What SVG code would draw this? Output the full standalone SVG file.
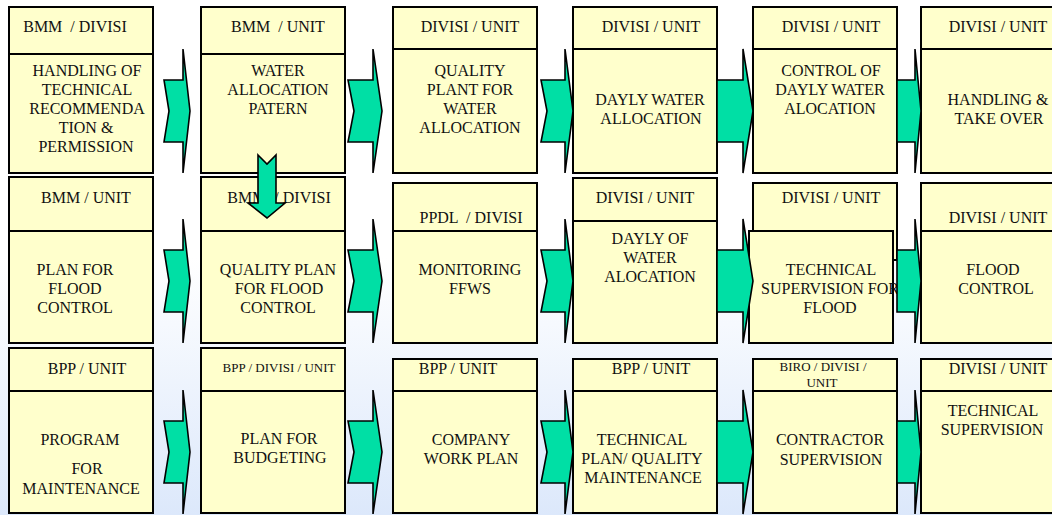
<svg xmlns="http://www.w3.org/2000/svg" width="1052" height="515" viewBox="0 0 1052 515">
<defs>
<linearGradient id="bg" x1="0" y1="0" x2="0" y2="1">
<stop offset="0" stop-color="#FFFFFF"/>
<stop offset="0.5" stop-color="#FFFFFF"/>
<stop offset="1" stop-color="#DCE8FB"/>
</linearGradient>
<style>
.box{fill:#FFFFCC;stroke:#000;stroke-width:2}
.div{stroke:#000;stroke-width:2}
.t{font-family:'Liberation Serif','Times New Roman','DejaVu Serif',serif;font-size:16px;text-anchor:middle;fill:#111}
.s{font-size:13px}
.arr{fill:#00DFA5;stroke:#000;stroke-width:1.6;stroke-linejoin:miter}
</style>
</defs>
<rect x="0" y="0" width="1052" height="515" fill="url(#bg)"/>

<g font-family="Liberation Serif, Times New Roman, serif">
<!-- Row 1 -->
<g id="n11">
<rect class="box" x="9" y="7" width="144" height="166"/>
<line class="div" x1="9" y1="54" x2="153" y2="54"/>
<text class="t" x="75" y="32" xml:space="preserve">BMM  / DIVISI</text>
<text class="t" x="87" y="76">HANDLING OF</text>
<text class="t" x="87" y="95">TECHNICAL</text>
<text class="t" x="87" y="114">RECOMMENDA</text>
<text class="t" x="86" y="133">TION &amp;</text>
<text class="t" x="86" y="152">PERMISSION</text>
</g>
<g id="n12">
<rect class="box" x="201" y="7" width="144" height="166"/>
<line class="div" x1="201" y1="54" x2="345" y2="54"/>
<text class="t" x="278" y="32" xml:space="preserve">BMM  / UNIT</text>
<text class="t" x="278" y="76">WATER</text>
<text class="t" x="278" y="95">ALLOCATION</text>
<text class="t" x="278" y="114">PATERN</text>
</g>
<g id="n13">
<rect class="box" x="393" y="7" width="144" height="166"/>
<line class="div" x1="393" y1="49" x2="537" y2="49"/>
<text class="t" x="470" y="32">DIVISI / UNIT</text>
<text class="t" x="470" y="76">QUALITY</text>
<text class="t" x="470" y="95">PLANT FOR</text>
<text class="t" x="470" y="114">WATER</text>
<text class="t" x="470" y="133">ALLOCATION</text>
</g>
<g id="n14">
<rect class="box" x="573" y="7" width="144" height="166"/>
<line class="div" x1="573" y1="49" x2="717" y2="49"/>
<text class="t" x="651" y="32">DIVISI / UNIT</text>
<text class="t" x="650" y="105">DAYLY WATER</text>
<text class="t" x="651" y="124">ALLOCATION</text>
</g>
<g id="n15">
<rect class="box" x="753" y="7" width="144" height="166"/>
<line class="div" x1="753" y1="49" x2="897" y2="49"/>
<text class="t" x="831" y="32">DIVISI / UNIT</text>
<text class="t" x="831" y="76">CONTROL OF</text>
<text class="t" x="830" y="95">DAYLY WATER</text>
<text class="t" x="830" y="114">ALOCATION</text>
</g>
<g id="n16">
<rect class="box" x="921" y="7" width="144" height="166"/>
<line class="div" x1="921" y1="49" x2="1065" y2="49"/>
<text class="t" x="998" y="32">DIVISI / UNIT</text>
<text class="t" x="998" y="105">HANDLING &amp;</text>
<text class="t" x="999" y="124">TAKE OVER</text>
</g>

<!-- Row 2 -->
<g id="n21">
<rect class="box" x="9" y="177" width="144" height="166"/>
<line class="div" x1="9" y1="231" x2="153" y2="231"/>
<text class="t" x="86" y="203">BMM / UNIT</text>
<text class="t" x="75" y="275">PLAN FOR</text>
<text class="t" x="75" y="294">FLOOD</text>
<text class="t" x="75" y="313">CONTROL</text>
</g>
<g id="n22">
<rect class="box" x="201" y="177" width="144" height="166"/>
<line class="div" x1="201" y1="231" x2="345" y2="231"/>
<text class="t" x="279" y="203" xml:space="preserve">BMM  / DIVISI</text>
<text class="t" x="278" y="275">QUALITY PLAN</text>
<text class="t" x="279" y="294">FOR FLOOD</text>
<text class="t" x="278" y="313">CONTROL</text>
</g>
<g id="n23">
<rect class="box" x="393" y="183" width="144" height="160"/>
<line class="div" x1="393" y1="231" x2="537" y2="231"/>
<text class="t" x="471" y="223" xml:space="preserve">PPDL  / DIVISI</text>
<text class="t" x="470" y="275">MONITORING</text>
<text class="t" x="470" y="294">FFWS</text>
</g>
<g id="n24">
<rect class="box" x="573" y="178" width="144" height="165"/>
<line class="div" x1="573" y1="221" x2="717" y2="221"/>
<text class="t" x="645" y="203">DIVISI / UNIT</text>
<text class="t" x="650" y="244">DAYLY OF</text>
<text class="t" x="650" y="263">WATER</text>
<text class="t" x="650" y="282">ALOCATION</text>
</g>
<g id="n25">
<rect class="box" x="753" y="183" width="144" height="77"/>
<text class="t" x="831" y="203">DIVISI / UNIT</text>
<rect class="box" x="749" y="231" width="144" height="112"/>
<text class="t" x="831" y="275">TECHNICAL</text>
<text class="t" x="830" y="294">SUPERVISION FOR</text>
<text class="t" x="830" y="313">FLOOD</text>
</g>
<g id="n26">
<rect class="box" x="921" y="183" width="144" height="160"/>
<line class="div" x1="921" y1="231" x2="1065" y2="231"/>
<text class="t" x="998" y="223">DIVISI / UNIT</text>
<text class="t" x="993" y="275">FLOOD</text>
<text class="t" x="996" y="294">CONTROL</text>
</g>

<!-- Row 3 -->
<g id="n31">
<rect class="box" x="9" y="348" width="144" height="165"/>
<line class="div" x1="9" y1="391" x2="153" y2="391"/>
<text class="t" x="87" y="374">BPP / UNIT</text>
<text class="t" x="80" y="445">PROGRAM</text>
<text class="t" x="87" y="474">FOR</text>
<text class="t" x="81" y="494">MAINTENANCE</text>
</g>
<g id="n32">
<rect class="box" x="201" y="348" width="144" height="165"/>
<line class="div" x1="201" y1="391" x2="345" y2="391"/>
<text class="t s" x="279" y="372">BPP / DIVISI / UNIT</text>
<text class="t" x="279" y="444">PLAN FOR</text>
<text class="t" x="280" y="463">BUDGETING</text>
</g>
<g id="n33">
<rect class="box" x="393" y="359" width="144" height="154"/>
<line class="div" x1="393" y1="391" x2="537" y2="391"/>
<text class="t" x="458" y="374">BPP / UNIT</text>
<text class="t" x="471" y="445">COMPANY</text>
<text class="t" x="471" y="464">WORK PLAN</text>
</g>
<g id="n34">
<rect class="box" x="573" y="359" width="144" height="154"/>
<line class="div" x1="573" y1="391" x2="717" y2="391"/>
<text class="t" x="651" y="374">BPP / UNIT</text>
<text class="t" x="642" y="445">TECHNICAL</text>
<text class="t" x="642" y="464">PLAN/ QUALITY</text>
<text class="t" x="643" y="483">MAINTENANCE</text>
</g>
<g id="n35">
<rect class="box" x="753" y="359" width="144" height="154"/>
<line class="div" x1="753" y1="391" x2="897" y2="391"/>
<text class="t s" x="823" y="371">BIRO / DIVISI /</text>
<text class="t s" x="822" y="387">UNIT</text>
<text class="t" x="830" y="445">CONTRACTOR</text>
<text class="t" x="831" y="465">SUPERVISION</text>
</g>
<g id="n36">
<rect class="box" x="921" y="359" width="144" height="154"/>
<line class="div" x1="921" y1="391" x2="1065" y2="391"/>
<text class="t" x="998" y="374">DIVISI / UNIT</text>
<text class="t" x="993" y="416">TECHNICAL</text>
<text class="t" x="992" y="435">SUPERVISION</text>
</g>
</g>

<!-- Connectors -->
<g id="connectors">
<path class="arr" d="M164,80 L183,80 L183,49 L190,111 L183,173 L183,142 L164,142 L169,111 Z"/>
<path class="arr" d="M348,80 L373,80 L373,49 L382,111 L373,173 L373,142 L348,142 L354,111 Z"/>
<path class="arr" d="M541,80 L565,80 L565,49 L573,111 L565,173 L565,142 L541,142 L547,111 Z"/>
<path class="arr" d="M717,80 L743,80 L743,49 L753,111 L743,173 L743,142 L717,142 Z"/>
<path class="arr" d="M897,80 L915,80 L915,49 L921,111 L915,173 L915,142 L897,142 Z"/>

<path class="arr" d="M164,250 L183,250 L183,219 L190,281 L183,343 L183,312 L164,312 L169,281 Z"/>
<path class="arr" d="M348,250 L373,250 L373,219 L382,281 L373,343 L373,312 L348,312 L354,281 Z"/>
<path class="arr" d="M541,250 L565,250 L565,219 L573,281 L565,343 L565,312 L541,312 L547,281 Z"/>
<path class="arr" d="M717,250 L743,250 L743,219 L753,281 L743,343 L743,312 L717,312 Z"/>
<path class="arr" d="M897,250 L915,250 L915,219 L921,281 L915,343 L915,312 L897,312 Z"/>

<path class="arr" d="M164,421 L183,421 L183,390 L190,452 L183,514 L183,483 L164,483 L169,452 Z"/>
<path class="arr" d="M348,421 L373,421 L373,390 L382,452 L373,514 L373,483 L348,483 L354,452 Z"/>
<path class="arr" d="M541,421 L565,421 L565,390 L573,452 L565,514 L565,483 L541,483 L547,452 Z"/>
<path class="arr" d="M717,421 L743,421 L743,390 L753,452 L743,514 L743,483 L717,483 Z"/>
<path class="arr" d="M897,421 L915,421 L915,390 L921,452 L915,514 L915,483 L897,483 Z"/>

<path class="arr" d="M258,155 L267,164 L276,155 L276,203 L285,203 L267,218 L248,203 L258,203 Z"/>
</g>
</svg>
